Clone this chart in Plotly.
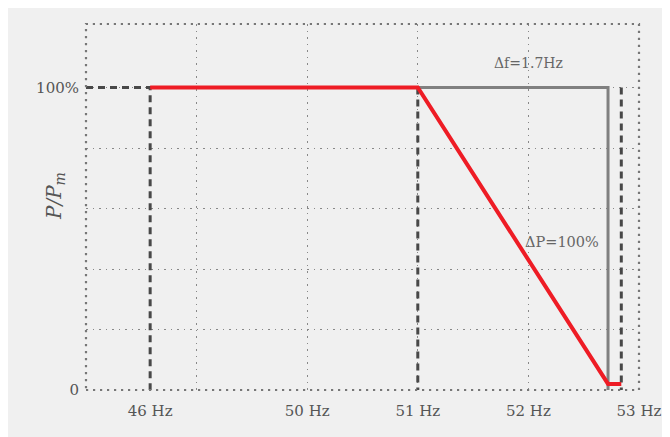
import plotly.graph_objects as go

# ---- data ----
tick_pos = [48.58, 50, 51, 52, 53]
tick_labels = ["46 Hz", "50 Hz", "51 Hz", "52 Hz", "53 Hz"]
grid_x = [49, 50, 51, 52]
grid_y = [0.2, 0.4, 0.6, 0.8, 1.0]

red_x = [48.58, 51, 52.72, 52.84]
red_y = [1.0, 1.0, 0.02, 0.02]

grey_x = [51, 52.72, 52.72]
grey_y = [1.0, 1.0, 0.0]

dash_x = [48.0, 48.58, 48.58, None, 51, 51, None, 52.84, 52.84]
dash_y = [1.0, 1.0, 0.0, None, 1.0, 0.0, None, 1.0, 0.0]

FONT = "DejaVu Serif"
BG = "#f0f0f0"

fig = go.Figure()
fig.add_trace(go.Scatter(x=dash_x, y=dash_y, mode="lines",
                         line=dict(color="#484848", width=3, dash="7px,5px"),
                         hoverinfo="skip", showlegend=False))
fig.add_trace(go.Scatter(x=grey_x, y=grey_y, mode="lines",
                         line=dict(color="#808080", width=3),
                         hoverinfo="skip", showlegend=False))
fig.add_trace(go.Scatter(x=red_x, y=red_y, mode="lines",
                         line=dict(color="#ee1c25", width=4),
                         hoverinfo="skip", showlegend=False))

fig.add_annotation(x=52.0, y=1.08, text="Δf=1.7Hz", showarrow=False,
                   font=dict(family=FONT, size=14, color="#666666"),
                   xanchor="center", yanchor="middle")
fig.add_annotation(x=52.3, y=0.49, text="ΔP=100%", showarrow=False,
                   font=dict(family=FONT, size=14.5, color="#666666"),
                   xanchor="center", yanchor="middle")
# y-axis title
fig.add_annotation(xref="paper", yref="paper", x=-0.056, y=0.53,
                   text="<i>P/P<sub>m</sub></i>", showarrow=False, textangle=-90,
                   font=dict(family=FONT, size=20, color="#555555"),
                   xanchor="center", yanchor="middle")

# dotted frame around plot area
fig.add_shape(type="rect", xref="paper", yref="paper", x0=0, y0=0, x1=1, y1=1,
              line=dict(color="#777777", width=2.2, dash="2.2px,4.8px"), layer="above")

fig.update_xaxes(range=[48, 53], tickvals=tick_pos, ticktext=tick_labels,
                 showgrid=False, zeroline=False, showline=False, ticks="",
                 ticklabelstandoff=10, automargin=False,
                 tickfont=dict(family=FONT, size=15, color="#555555"),
                 minor=dict(tickvals=grid_x, showgrid=True, gridcolor="#888888",
                            griddash="1.5px,5px", gridwidth=1.3, ticks=""))
fig.update_yaxes(range=[0, 1.21], tickvals=[0, 1], ticktext=["0", "100%"],
                 showgrid=False, zeroline=False, showline=False, ticks="",
                 ticklabelstandoff=6, automargin=False,
                 tickfont=dict(family=FONT, size=15, color="#555555"),
                 minor=dict(tickvals=grid_y, showgrid=True, gridcolor="#888888",
                            griddash="1.5px,5px", gridwidth=1.3, ticks=""))

fig.update_layout(width=662, height=429,
                  margin=dict(l=78, r=31, t=16, b=47, autoexpand=False),
                  paper_bgcolor=BG, plot_bgcolor=BG,
                  font=dict(family=FONT))

fig.write_html("out.html")
